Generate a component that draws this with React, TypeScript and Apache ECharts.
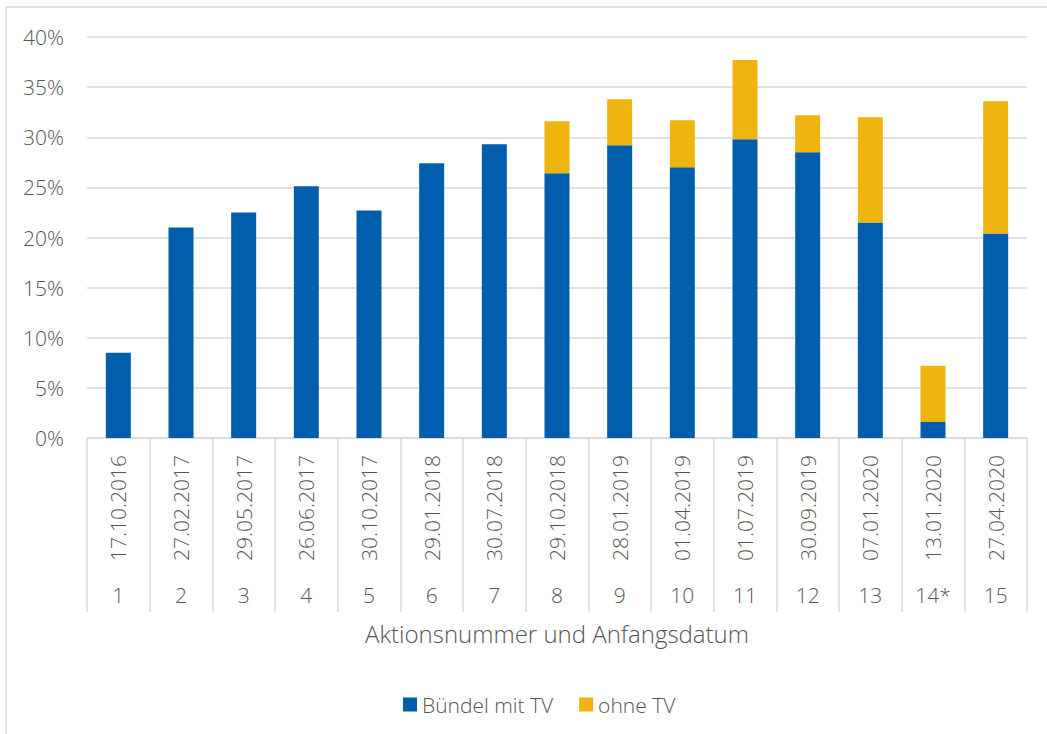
import React, { useEffect, useRef } from "react";
import * as echarts from "echarts";

const dates = [
  "17.10.2016", "27.02.2017", "29.05.2017", "26.06.2017", "30.10.2017",
  "29.01.2018", "30.07.2018", "29.10.2018", "28.01.2019", "01.04.2019",
  "01.07.2019", "30.09.2019", "07.01.2020", "13.01.2020", "27.04.2020",
];
const actionNumbers = ["1", "2", "3", "4", "5", "6", "7", "8", "9", "10", "11", "12", "13", "14*", "15"];
const buendelMitTV = [8.5, 21.0, 22.5, 25.1, 22.7, 27.4, 29.3, 26.4, 29.2, 27.0, 29.8, 28.5, 21.5, 1.6, 20.4];
const ohneTV = [null, null, null, null, null, null, null, 5.2, 4.6, 4.7, 7.9, 3.7, 10.5, 5.6, 13.2];
const yTicks = { min: 0, max: 40, interval: 5 };

const FONT = "'Open Sans', 'Noto Sans', sans-serif";
const TEXT = "#555555";
const GRID = "#d9d9d9";
const W = 300;

export default function App() {
  const ref = useRef<HTMLDivElement>(null);
  useEffect(() => {
    if (!ref.current) return;
    const chart = echarts.init(ref.current, null, { renderer: "svg" });
    chart.setOption({
      animation: false,
      backgroundColor: "#ffffff",
      textStyle: { fontFamily: FONT },
      grid: {
        left: 87,
        right: 20,
        top: 37,
        bottom: 296,
        containLabel: false,
        outerBoundsMode: "none",
      },
      legend: {
        left: 398,
        top: 689,
        itemWidth: 14,
        itemHeight: 14,
        itemGap: 26,
        icon: "rect",
        textStyle: { color: TEXT, fontSize: 21, fontWeight: W, fontFamily: FONT, padding: [0, 0, 0, 0] },
        data: ["Bündel mit TV", "ohne TV"],
      },
      xAxis: [
        {
          type: "category",
          data: dates,
          position: "bottom",
          axisLine: { show: true, lineStyle: { color: GRID, width: 1.5 } },
          axisTick: { show: true, length: 174, lineStyle: { color: GRID, width: 1.5 } },
          axisLabel: {
            rotate: 90,
            margin: 17,
            color: TEXT,
            fontSize: 21,
            fontWeight: W,
            fontFamily: FONT,
            interval: 0,
          },
        },
        {
          type: "category",
          data: actionNumbers,
          position: "bottom",
          axisLine: { show: false },
          axisTick: { show: false },
          axisLabel: {
            margin: 146,
            color: TEXT,
            fontSize: 21,
            fontWeight: W,
            fontFamily: FONT,
            interval: 0,
          },
        },
      ],
      yAxis: {
        type: "value",
        min: yTicks.min,
        max: yTicks.max,
        interval: yTicks.interval,
        axisLine: { show: false },
        axisTick: { show: false },
        splitLine: { lineStyle: { color: GRID, width: 1.5 } },
        axisLabel: {
          formatter: "{value}%",
          color: TEXT,
          fontSize: 21,
          fontWeight: W,
          fontFamily: FONT,
          margin: 23,
        },
      },
      graphic: [
        {
          type: "rect",
          shape: { x: 6, y: 7, width: 1100, height: 800 },
          style: { fill: "none", stroke: GRID, lineWidth: 1.5 },
          silent: true,
        },
        {
          type: "text",
          x: 557,
          y: 633,
          style: {
            text: "Aktionsnummer und Anfangsdatum",
            fill: TEXT,
            fontSize: 24,
            fontWeight: W,
            fontFamily: FONT,
            textAlign: "center",
            textVerticalAlign: "middle",
          },
        },
      ],
      series: [
        {
          name: "Bündel mit TV",
          type: "bar",
          stack: "total",
          barWidth: 25,
          data: buendelMitTV,
          itemStyle: { color: "#005EAC" },
        },
        {
          name: "ohne TV",
          type: "bar",
          stack: "total",
          barWidth: 25,
          data: ohneTV,
          itemStyle: { color: "#EFB410" },
        },
      ],
    });
    return () => chart.dispose();
  }, []);
  return (
    <div
      ref={ref}
      style={{ position: "fixed", left: 0, top: 0, width: 1047, height: 734 }}
    />
  );
}
